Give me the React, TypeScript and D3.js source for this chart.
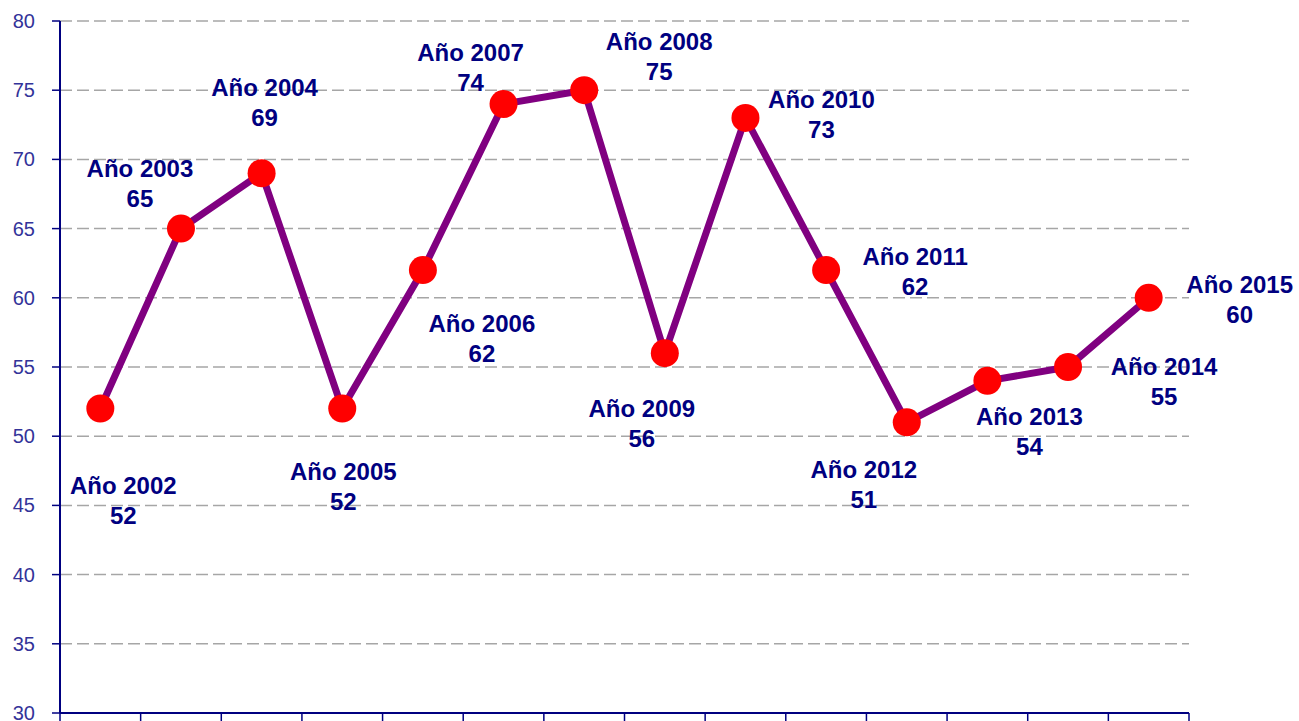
import React from "react";
import * as d3 from "d3";

const years = ["2002","2003","2004","2005","2006","2007","2008","2009","2010","2011","2012","2013","2014","2015"];
const values = [52, 65, 69, 52, 62, 74, 75, 56, 73, 62, 51, 54, 55, 60];
const yTicks = [30, 35, 40, 45, 50, 55, 60, 65, 70, 75, 80];
// label offsets (dx, dy) of first line's center relative to the point
const labelDx = [23, -41, 3, 1, 59, -33, 75, -23, 76, 89, -43, 42, 96, 91];
const labelDy = [76, -61, -86, 62, 53, -52, -49, 55, -19, -14, 47, 35, -1, -14];

export default function App() {
  const W = 1299, H = 721;
  const left = 60, right = 1189, top = 21, bottom = 713;
  const x = d3.scalePoint<string>().domain(years).range([left, right]).padding(0.5);
  const y = d3.scaleLinear().domain([30, 80]).range([bottom, top]);
  const step = x.step();
  const line = d3.line<number>().x((_, i) => x(years[i]) as number).y((d) => y(d));
  const font = "'Liberation Sans', Arial, sans-serif";
  return (
    <svg width={W} height={H} style={{ position: "absolute", left: 0, top: 0, background: "#fff" }}>
      {yTicks.filter((t) => t > 30).map((t) => (
        <line key={"g" + t} x1={left} x2={right} y1={y(t)} y2={y(t)} stroke="#a6a6a6" strokeWidth={1.5} strokeDasharray="12 5" />
      ))}
      {yTicks.map((t) => (
        <g key={"yt" + t}>
          <line x1={left - 8} x2={left} y1={y(t)} y2={y(t)} stroke="#000080" strokeWidth={1.5} />
          <text x={35} y={y(t) + 7} textAnchor="end" fontFamily={font} fontSize={20} fill="#333399">{t}</text>
        </g>
      ))}
      {d3.range(years.length + 1).map((i) => (
        <line key={"xt" + i} x1={left + i * step} x2={left + i * step} y1={bottom} y2={bottom + 9} stroke="#000080" strokeWidth={1.5} />
      ))}
      <line x1={left} x2={left} y1={top} y2={bottom} stroke="#000080" strokeWidth={2} />
      <line x1={left} x2={right} y1={bottom} y2={bottom} stroke="#000080" strokeWidth={2} />
      <path d={line(values) || ""} fill="none" stroke="#800080" strokeWidth={7} strokeLinejoin="round" />
      {values.map((v, i) => (
        <circle key={"c" + i} cx={x(years[i]) as number} cy={y(v)} r={14} fill="#ff0000" />
      ))}
      {values.map((v, i) => {
        const cx = (x(years[i]) as number) + labelDx[i];
        const cy = y(v) + labelDy[i] + 9;
        return (
          <text key={"l" + i} textAnchor="middle" fontFamily={font} fontWeight="bold" fontSize={24} fill="#000080">
            <tspan x={cx} y={cy}>{"Año " + years[i]}</tspan>
            <tspan x={cx} y={cy + 30}>{v}</tspan>
          </text>
        );
      })}
    </svg>
  );
}
